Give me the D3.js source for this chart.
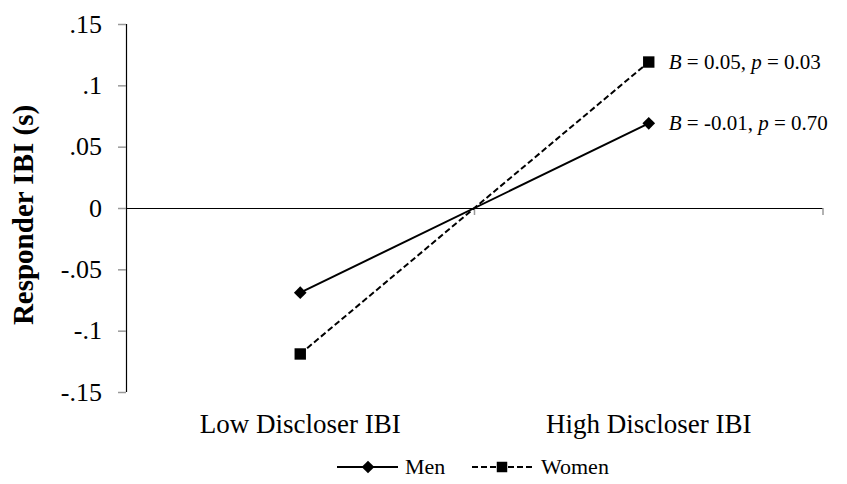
<!DOCTYPE html>
<html>
<head>
<meta charset="utf-8">
<script src="https://cdn.jsdelivr.net/npm/d3@7"></script>
<style>
  body { margin: 0; background: #fff; }
  svg text { font-family: "Liberation Serif", "Times New Roman", serif; }
</style>
</head>
<body>
<div id="chart"></div>
<script>
const categories = ["Low Discloser IBI", "High Discloser IBI"];
const menValues = [-0.069, 0.069];
const womenValues = [-0.119, 0.119];
const yTicks = [-0.15, -0.1, -0.05, 0, 0.05, 0.1, 0.15];
const yTickLabels = ["-.15", "-.1", "-.05", "0", ".05", ".1", ".15"];
const annotations = [
  { series: "Women", B: "0.05", p: "0.03" },
  { series: "Men", B: "-0.01", p: "0.70" }
];

const W = 847, H = 484;
const margin = { top: 24, right: 24, bottom: 92, left: 126 };
const width = 823 - margin.left;
const height = 392 - margin.top;

const svg = d3.select("#chart").append("svg")
  .attr("width", W).attr("height", H);

const g = svg.append("g")
  .attr("transform", `translate(${margin.left},${margin.top})`);

const x = d3.scaleBand().domain(categories).range([0, width]);
const y = d3.scaleLinear().domain([-0.15, 0.15]).range([height, 0]);

// y axis
const yAxis = g.append("g")
  .call(d3.axisLeft(y).tickValues(yTicks)
    .tickFormat((d, i) => yTickLabels[i]).tickSize(8).tickPadding(16));
yAxis.select(".domain").attr("stroke", "#000").attr("stroke-width", 1.2)
  .attr("d", `M0.5,${y(0.15)}V${y(-0.15)}`);
yAxis.selectAll(".tick line").attr("stroke", "#999").attr("stroke-width", 1.5);
yAxis.selectAll(".tick text").style("font-size", "26px").attr("fill", "#000");

// x axis at zero
const xAxis = g.append("g")
  .attr("transform", `translate(0,${y(0)})`)
  .call(d3.axisBottom(x).tickSize(0).tickFormat(""));
xAxis.select(".domain").attr("stroke", "#000").attr("stroke-width", 1.2)
  .attr("d", `M0,0.5H${width}`);
[width / 2, width].forEach(t => {
  xAxis.append("line").attr("x1", t).attr("x2", t).attr("y1", 0).attr("y2", 7)
    .attr("stroke", "#999").attr("stroke-width", 1.5);
});

// category labels
g.selectAll(".cat").data(categories).join("text")
  .attr("class", "cat")
  .attr("x", d => x(d) + x.bandwidth() / 2)
  .attr("y", 433 - margin.top)
  .attr("text-anchor", "middle")
  .style("font-size", "27px")
  .text(d => d);

// y title
svg.append("text")
  .attr("transform", `translate(33,215) rotate(-90)`)
  .attr("text-anchor", "middle")
  .style("font-size", "29px").style("font-weight", "bold")
  .text("Responder IBI (s)");

const cx = d => x(d) + x.bandwidth() / 2;
const line = d3.line().x(d => cx(d.cat)).y(d => y(d.v));

const men = categories.map((c, i) => ({ cat: c, v: menValues[i] }));
const women = categories.map((c, i) => ({ cat: c, v: womenValues[i] }));

g.append("path").datum(men).attr("d", line)
  .attr("fill", "none").attr("stroke", "#000").attr("stroke-width", 2);
g.append("path").datum(women).attr("d", line)
  .attr("fill", "none").attr("stroke", "#000").attr("stroke-width", 2)
  .attr("stroke-dasharray", "6,3");

const diamond = d3.symbol().type(d3.symbolSquare).size(80);
g.selectAll(".menpt").data(men).join("path")
  .attr("class", "menpt")
  .attr("d", diamond)
  .attr("transform", d => `translate(${cx(d.cat)},${y(d.v)}) rotate(45)`);
g.selectAll(".wpt").data(women).join("path")
  .attr("class", "wpt")
  .attr("d", d3.symbol().type(d3.symbolSquare).size(130))
  .attr("transform", d => `translate(${cx(d.cat)},${y(d.v)})`);

// annotations
annotations.forEach(a => {
  const vals = a.series === "Men" ? menValues : womenValues;
  const t = g.append("text")
    .attr("x", cx(categories[1]) + 20)
    .attr("y", y(vals[1]) + 7)
    .style("font-size", "21px");
  t.append("tspan").style("font-style", "italic").text("B");
  t.append("tspan").text(` = ${a.B}, `);
  t.append("tspan").style("font-style", "italic").text("p");
  t.append("tspan").text(` = ${a.p}`);
});

// legend
const leg = svg.append("g").attr("transform", "translate(0,467)");
leg.append("line").attr("x1", 337).attr("x2", 398).attr("y1", 0).attr("y2", 0)
  .attr("stroke", "#000").attr("stroke-width", 2);
leg.append("path").attr("d", diamond).attr("transform", "translate(368,0) rotate(45)");
leg.append("text").attr("x", 405).attr("y", 7).style("font-size", "22px").text("Men");
leg.append("line").attr("x1", 472).attr("x2", 534).attr("y1", 0).attr("y2", 0)
  .attr("stroke", "#000").attr("stroke-width", 2).attr("stroke-dasharray", "6,3");
leg.append("path").attr("d", d3.symbol().type(d3.symbolSquare).size(110))
  .attr("transform", "translate(502,0)");
leg.append("text").attr("x", 541).attr("y", 7).style("font-size", "22px").text("Women");
</script>
</body>
</html>
